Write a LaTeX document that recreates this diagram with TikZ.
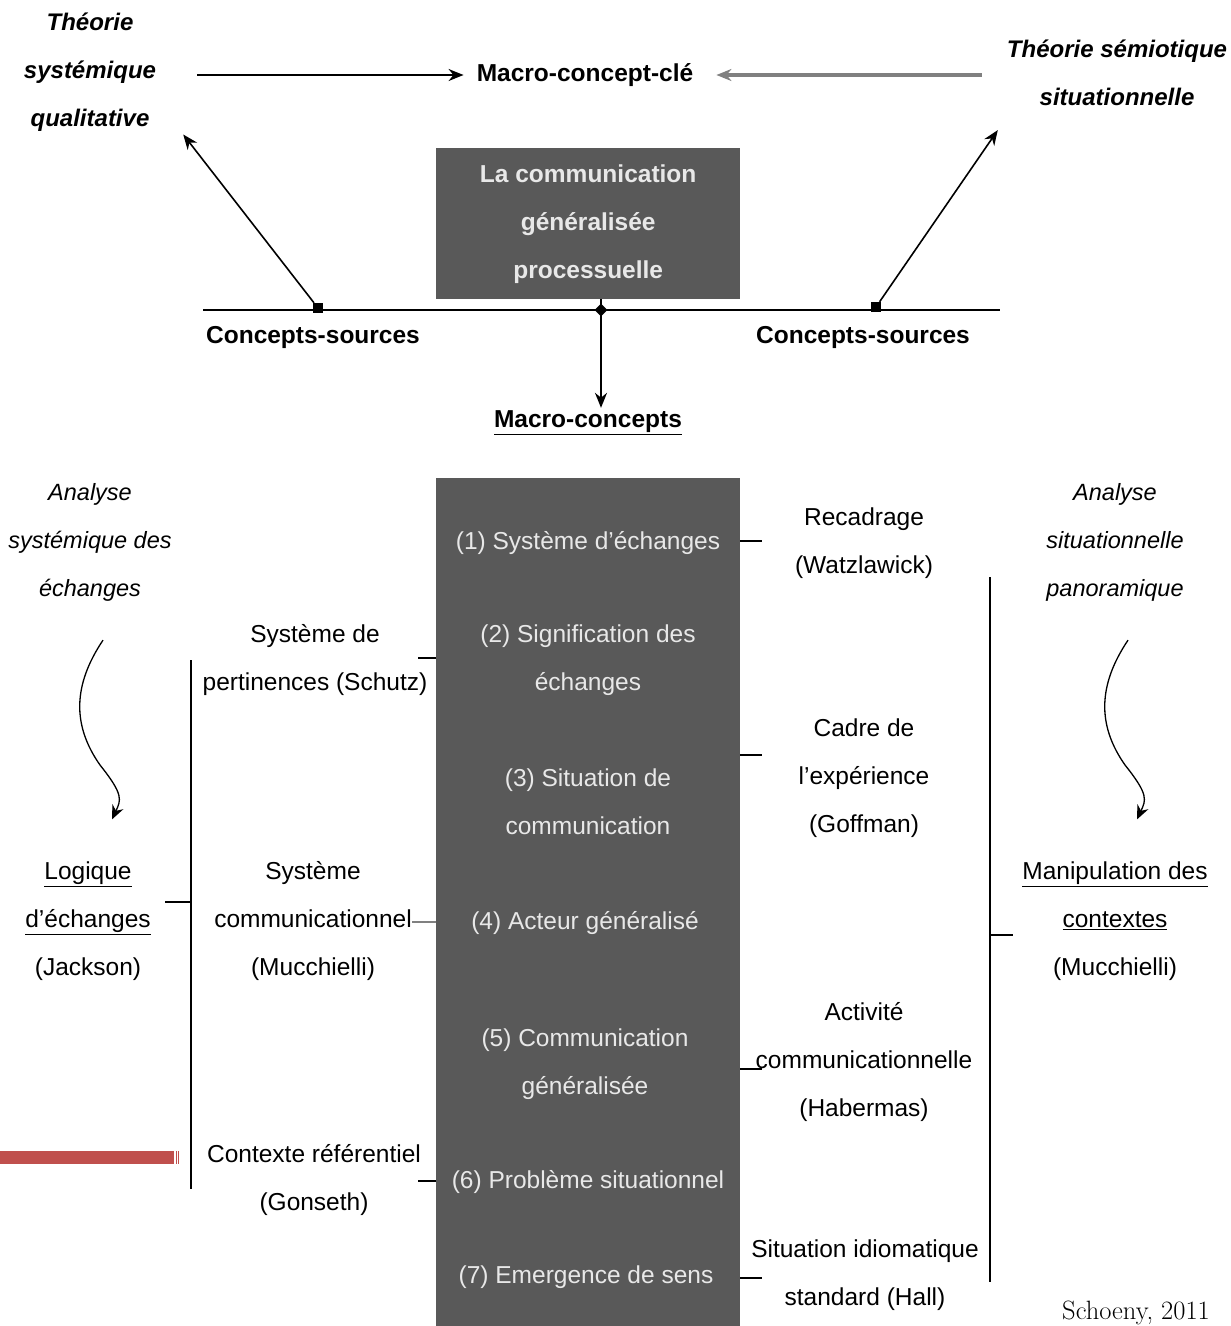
\documentclass[tikz,border=0pt]{standalone}
\usepackage{fontspec}
\setmainfont{Liberation Sans}
\newfontfamily\lmfont{Latin Modern Roman}
\usetikzlibrary{arrows.meta,shapes.geometric}
\definecolor{boxgray}{RGB}{89,89,89}
\definecolor{boxtext}{RGB}{232,232,232}
\definecolor{barred}{RGB}{192,80,77}
\begin{document}
\begin{tikzpicture}[x=1pt,y=-1pt,
 lab/.style={align=center,inner sep=3pt,font=\fontsize{24.5}{48}\selectfont},
 bold/.style={lab,font=\fontsize{24.5}{48}\selectfont\bfseries},
 ital/.style={lab,font=\fontsize{23.5}{48}\selectfont\itshape},
 bital/.style={lab,font=\fontsize{24}{48}\selectfont\bfseries\itshape},
 inbox/.style={lab,text=boxtext},
 mbox/.style={fill=boxgray,anchor=north west,inner sep=0pt},
 sq/.style={fill=black,minimum size=10pt,inner sep=0pt},
 dia/.style={fill=black,diamond,minimum size=13pt,inner sep=0pt},
 arr/.style={-{Stealth[length=15pt,width=12pt]},line width=1.6pt},
 tick/.style={line width=1.6pt},
 wavy/.style={-{Stealth[length=14pt,width=12pt]},line width=1.3pt}]
 \useasboundingbox (0,0) rectangle (1231,1326);
 \node[bital] (tsq) at (90,72) {Théorie\\systémique\\qualitative};
 \node[bold] (mcc) at (585,75) {Macro-concept-clé};
 \node[bital] (tss) at (1117,73) {Théorie sémiotique\\situationnelle};
 \draw[arr,shorten <=38pt,shorten >=10pt] (tsq.east |- mcc.west) -- (mcc.west);
 \draw[arr,draw=gray,fill=gray,line width=3.6pt,shorten <=22pt,shorten >=20pt] (tss.west |- mcc.east) -- (mcc.east);
 \node[mbox,bold,text=boxtext,minimum width=304pt,minimum height=151pt] (cbox) at (436,148) {La communication\\généralisée\\processuelle};
 \coordinate (hl) at (203,310);
 \coordinate (hr) at (1000,310);
 \draw[line width=2.4pt] (hl) -- (hr);
 \node[sq] (sqL) at (318,308) {};
 \node[sq] (sqR) at (876,307) {};
 \node[dia] (dm) at (601,310) {};
 \draw[arr] (sqL) -- ([shift={(24,0)}]tsq.south east);
 \draw[arr] (sqR) -- ([shift={(-6,21)}]tss.south west);
 \node[bold] (csl) at (313,337) {Concepts-sources};
 \node[bold] (csr) at (863,337) {Concepts-sources};
 \node[bold] (mc) at (588,423) {\underline{Macro-concepts}};
 \draw[arr] (dm |- cbox.south) -- (dm |- mc.north);
 \node[ital] (asl) at (90,542) {Analyse\\systémique des\\échanges};
 \node[ital] (asr) at (1115,542) {Analyse\\situationnelle\\panoramique};
 \node[mbox,minimum width=304pt,minimum height=860pt] (mac) at (436,478) {};
 \node[inbox] (s1) at (588,543) {(1) Système d'échanges};
 \node[inbox] (s2) at (588,660) {(2) Signification des\\échanges};
 \node[inbox] (s3) at (588,802) {(3) Situation de\\communication};
 \node[inbox] (s4) at (585,923) {(4) Acteur généralisé};
 \node[inbox] (s5) at (585,1064) {(5) Communication\\généralisée};
 \node[inbox] (s6) at (588,1182) {(6) Problème situationnel};
 \node[inbox] (s7) at (586,1277) {(7) Emergence de sens};
 \node[lab] (r1) at (864,543) {Recadrage\\(Watzlawick)};
 \node[lab] (r2) at (864,778) {Cadre de\\l'expérience\\(Goffman)};
 \node[lab] (r3) at (864,1062) {Activité\\communicationnelle\\(Habermas)};
 \node[lab] (r4) at (865,1275) {Situation idiomatique\\standard (Hall)};
 \node[lab] (l1) at (315,660) {Système de\\pertinences (Schutz)};
 \node[lab] (l2) at (313,921) {Système\\communicationnel\\(Mucchielli)};
 \node[lab] (l3) at (314,1180) {Contexte référentiel\\(Gonseth)};
 \node[lab] (log) at (88,921) {\underline{Logique}\\\underline{d'échanges}\\(Jackson)};
 \node[lab] (man) at (1115,921) {\underline{Manipulation des}\\\underline{contextes}\\(Mucchielli)};
 \draw[tick] (mac.east |- s1) ++(0,-2) -- ++(22,0);
 \draw[tick] (mac.east |- r2) ++(0,-23) -- ++(22,0);
 \draw[tick] (mac.east |- r3) ++(0,7) -- ++(22,0);
 \draw[tick] (mac.east |- r4) ++(0,3) -- ++(22,0);
 \draw[tick] (mac.west |- l1) ++(0,-2) -- ++(-18,0);
 \draw[tick,draw=gray,line width=2.4pt] (mac.west |- l2) ++(0,1) -- ++(-24,0);
 \draw[tick] (mac.west |- l3) ++(0,1) -- ++(-18,0);
 \coordinate (lbt) at (191,660);
 \coordinate (lbb) at (191,1189);
 \draw[tick] (lbt) -- (lbb);
 \draw[tick] (lbt |- log) ++(0,-19) -- ++(-26,0);
 \coordinate (rbt) at (990,577);
 \coordinate (rbb) at (990,1282);
 \draw[tick] (rbt) -- (rbb);
 \draw[tick] (rbt |- man) ++(0,14) -- ++(23,0);
 \draw[wavy] ([shift={(13,36)}]asl.south) .. controls (73,685) and (72,725) .. (100,765) .. controls (124,795) and (121,800) .. ([shift={(24,-39)}]log.north);
 \draw[wavy] ([shift={(13,36)}]asr.south) .. controls (1098,685) and (1097,725) .. (1125,765) .. controls (1149,795) and (1146,800) .. ([shift={(22,-39)}]man.north);
 \fill[barred] (0,1151) rectangle (174,1164);
 \draw[barred,line width=0.6pt] (176,1151) -- (176,1164);
 \draw[barred,line width=0.6pt] (178,1151) -- (178,1164);
 \node[anchor=base west,inner sep=0pt,font=\lmfont\fontsize{26.5}{32}\selectfont] (src) at (1062,1319) {Schoeny, 2011};
\end{tikzpicture}
\end{document}
